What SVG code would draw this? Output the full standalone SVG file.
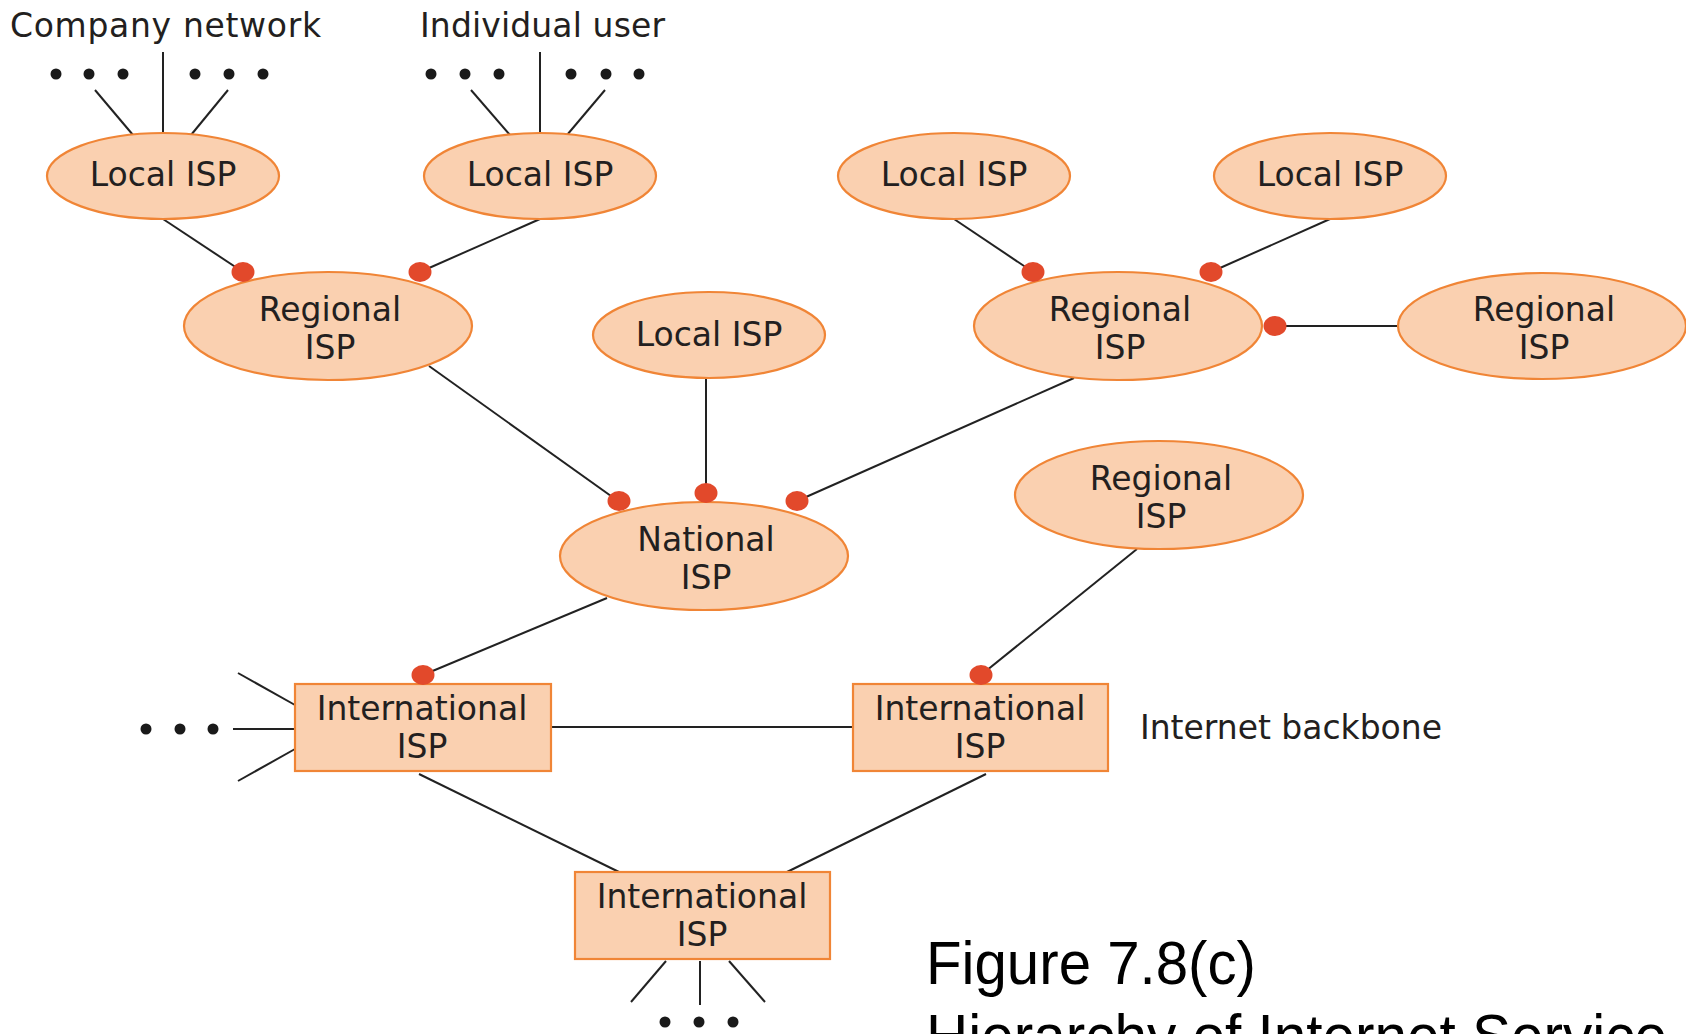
<svg xmlns="http://www.w3.org/2000/svg" width="1686" height="1034" viewBox="0 0 1686 1034">
<style>
.node{fill:#fad0b0;stroke:#f08536;stroke-width:2.2}
.lbl{font-family:"DejaVu Sans",sans-serif;font-size:33px;fill:#231f20;text-anchor:middle}
.free{font-family:"DejaVu Sans",sans-serif;font-size:33px;fill:#231f20}
.cap{font-family:"Liberation Sans",Arial,sans-serif;font-size:61px;fill:#000}
.ln{stroke:#222;stroke-width:2;fill:none}
.pt{fill:#e2492b}
.dot{fill:#1a1a1a}
</style>
<rect width="1686" height="1034" fill="#fff"/>
<g id="connectors">
  <line class="ln" x1="163" y1="52" x2="163" y2="133"/>
  <line class="ln" x1="95" y1="90" x2="133" y2="135"/>
  <line class="ln" x1="228" y1="90" x2="191" y2="135"/>
  <line class="ln" x1="540" y1="52" x2="540" y2="133"/>
  <line class="ln" x1="471" y1="90" x2="510" y2="135"/>
  <line class="ln" x1="605" y1="90" x2="567" y2="135"/>
  <line class="ln" x1="163" y1="219" x2="243" y2="272"/>
  <line class="ln" x1="540" y1="219" x2="420" y2="272"/>
  <line class="ln" x1="954" y1="219" x2="1033" y2="272"/>
  <line class="ln" x1="1330" y1="219" x2="1211" y2="272"/>
  <line class="ln" x1="1275" y1="326" x2="1398" y2="326"/>
  <line class="ln" x1="429" y1="366" x2="618" y2="501"/>
  <line class="ln" x1="706" y1="378" x2="706" y2="493"/>
  <line class="ln" x1="1074" y1="378" x2="797" y2="501"/>
  <line class="ln" x1="1137" y1="549" x2="981" y2="675"/>
  <line class="ln" x1="607" y1="598" x2="423" y2="675"/>
  <line class="ln" x1="551" y1="727" x2="853" y2="727"/>
  <line class="ln" x1="238" y1="673" x2="295" y2="705"/>
  <line class="ln" x1="233" y1="729" x2="295" y2="729"/>
  <line class="ln" x1="238" y1="781" x2="295" y2="749"/>
  <line class="ln" x1="419" y1="774" x2="619" y2="872"/>
  <line class="ln" x1="986" y1="774" x2="787" y2="872"/>
  <line class="ln" x1="666" y1="961" x2="631" y2="1002"/>
  <line class="ln" x1="700" y1="961" x2="700" y2="1005"/>
  <line class="ln" x1="729" y1="961" x2="765" y2="1002"/>
</g>
<g id="ellipsis-dots">
  <circle class="dot" cx="56" cy="74" r="5.5"/><circle class="dot" cx="89" cy="74" r="5.5"/><circle class="dot" cx="123" cy="74" r="5.5"/>
  <circle class="dot" cx="195" cy="74" r="5.5"/><circle class="dot" cx="229" cy="74" r="5.5"/><circle class="dot" cx="263" cy="74" r="5.5"/>
  <circle class="dot" cx="431" cy="74" r="5.5"/><circle class="dot" cx="465" cy="74" r="5.5"/><circle class="dot" cx="499" cy="74" r="5.5"/>
  <circle class="dot" cx="571" cy="74" r="5.5"/><circle class="dot" cx="606" cy="74" r="5.5"/><circle class="dot" cx="639" cy="74" r="5.5"/>
  <circle class="dot" cx="146" cy="729" r="5.5"/><circle class="dot" cx="180" cy="729" r="5.5"/><circle class="dot" cx="213" cy="729" r="5.5"/>
  <circle class="dot" cx="665" cy="1022" r="5.5"/><circle class="dot" cx="699" cy="1022" r="5.5"/><circle class="dot" cx="733" cy="1022" r="5.5"/>
</g>
<g id="local1"><ellipse class="node" cx="163" cy="176" rx="116" ry="43"/><text class="lbl" x="163" y="186">Local ISP</text></g>
<g id="local2"><ellipse class="node" cx="540" cy="176" rx="116" ry="43"/><text class="lbl" x="540" y="186">Local ISP</text></g>
<g id="local3"><ellipse class="node" cx="954" cy="176" rx="116" ry="43"/><text class="lbl" x="954" y="186">Local ISP</text></g>
<g id="local4"><ellipse class="node" cx="1330" cy="176" rx="116" ry="43"/><text class="lbl" x="1330" y="186">Local ISP</text></g>
<g id="local5"><ellipse class="node" cx="709" cy="335" rx="116" ry="43"/><text class="lbl" x="709" y="346">Local ISP</text></g>
<g id="regional1"><ellipse class="node" cx="328" cy="326" rx="144" ry="54"/><text class="lbl" x="330" y="321">Regional</text><text class="lbl" x="330" y="359">ISP</text></g>
<g id="regional2"><ellipse class="node" cx="1118" cy="326" rx="144" ry="54"/><text class="lbl" x="1120" y="321">Regional</text><text class="lbl" x="1120" y="359">ISP</text></g>
<g id="regional3"><ellipse class="node" cx="1542" cy="326" rx="144" ry="53"/><text class="lbl" x="1544" y="321">Regional</text><text class="lbl" x="1544" y="359">ISP</text></g>
<g id="regional4"><ellipse class="node" cx="1159" cy="495" rx="144" ry="54"/><text class="lbl" x="1161" y="490">Regional</text><text class="lbl" x="1161" y="528">ISP</text></g>
<g id="national"><ellipse class="node" cx="704" cy="556" rx="144" ry="54"/><text class="lbl" x="706" y="551">National</text><text class="lbl" x="706" y="589">ISP</text></g>
<g id="intl1"><rect class="node" x="295" y="684" width="256" height="87"/><text class="lbl" x="422" y="720">International</text><text class="lbl" x="422" y="758">ISP</text></g>
<g id="intl2"><rect class="node" x="853" y="684" width="255" height="87"/><text class="lbl" x="980" y="720">International</text><text class="lbl" x="980" y="758">ISP</text></g>
<g id="intl3"><rect class="node" x="575" y="872" width="255" height="87"/><text class="lbl" x="702" y="908">International</text><text class="lbl" x="702" y="946">ISP</text></g>
<g id="link-points">
  <ellipse class="pt" cx="243" cy="272" rx="11.5" ry="10"/>
  <ellipse class="pt" cx="420" cy="272" rx="11.5" ry="10"/>
  <ellipse class="pt" cx="1033" cy="272" rx="11.5" ry="10"/>
  <ellipse class="pt" cx="1211" cy="272" rx="11.5" ry="10"/>
  <ellipse class="pt" cx="1275" cy="326" rx="11.5" ry="10"/>
  <ellipse class="pt" cx="619" cy="501" rx="11.5" ry="10"/>
  <ellipse class="pt" cx="706" cy="493" rx="11.5" ry="10"/>
  <ellipse class="pt" cx="797" cy="501" rx="11.5" ry="10"/>
  <ellipse class="pt" cx="423" cy="675" rx="11.5" ry="10"/>
  <ellipse class="pt" cx="981" cy="675" rx="11.5" ry="10"/>
</g>
<g id="labels">
  <text class="free" x="10" y="37" textLength="311">Company network</text>
  <text class="free" x="420" y="37" textLength="245">Individual user</text>
  <text class="free" x="1140" y="739" textLength="302">Internet backbone</text>
  <text class="cap" x="926" y="984" textLength="330" lengthAdjust="spacingAndGlyphs">Figure 7.8(c)</text>
  <text class="cap" x="926" y="1057" textLength="741" lengthAdjust="spacingAndGlyphs">Hierarchy of Internet Service</text>
</g>
</svg>
